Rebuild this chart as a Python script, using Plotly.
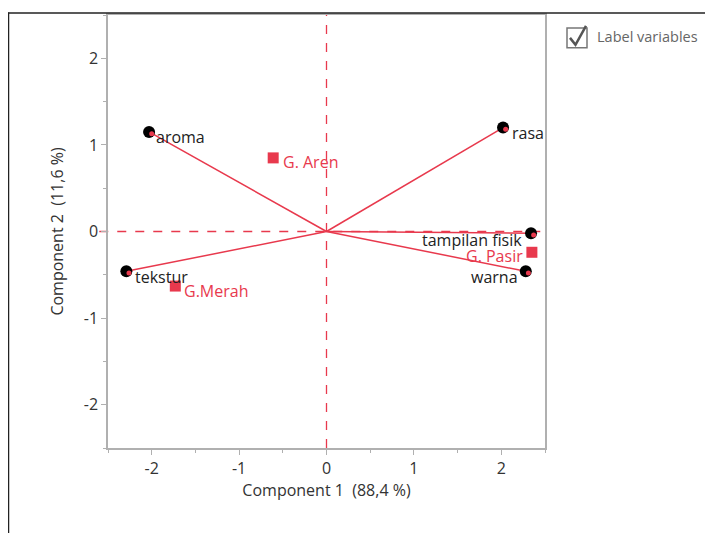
import plotly.graph_objects as go

var_names = ["aroma", "rasa", "tampilan fisik", "warna", "tekstur"]
var_x = [-2.03, 2.02, 2.34, 2.28, -2.29]
var_y = [1.15, 1.20, -0.02, -0.46, -0.46]

grp_names = ["G. Aren", "G.Merah", "G. Pasir"]
grp_x = [-0.61, -1.73, 2.35]
grp_y = [0.85, -0.63, -0.24]

xtick_vals = [-2, -1, 0, 1, 2]
xtick_text = ["-2", "-1", "0", "1", "2"]
ytick_vals = [-2, -1, 0, 1, 2]
ytick_text = ["-2", "-1", "0", "1", "2"]

RED = "#e8394d"
OX, OY = 8, 10  # page offset of the figure
W, H = 713 - OX, 535 - OY
L, R, T, B = 108 - OX, 545 - OX, 15 - OY, 450 - OY
FONT = "Open Sans"
FS = 16

fig = go.Figure()

for n, x, y in zip(var_names, var_x, var_y):
    fig.add_trace(go.Scatter(x=[0, x], y=[0, y], mode="lines",
                             line=dict(color=RED, width=1.5), showlegend=False, hoverinfo="skip"))

fig.add_trace(go.Scatter(x=var_x, y=var_y, mode="markers", showlegend=False,
                         marker=dict(color="black", size=12, line=dict(width=0))))
fig.add_trace(go.Scatter(x=[v + 0.03 for v in var_x], y=[v - 0.02 for v in var_y], mode="markers", showlegend=False,
                         marker=dict(color=RED, size=5, line=dict(width=0))))

fig.add_trace(go.Scatter(x=grp_x, y=grp_y, mode="markers",
                         marker=dict(symbol="square", color=RED, size=11, line=dict(width=0)),
                         showlegend=False))

# label placement: (xanchor, xshift, yshift)
var_lab = [("left", 5, -5), ("left", 7, -5), ("right", -7, -7), ("right", -6, -6), ("left", 7, -6)]
grp_lab = [("left", 8, -4), ("left", 7, -5), ("right", -7, -4)]

for n, x, y, (xa, xs, ys) in zip(var_names, var_x, var_y, var_lab):
    fig.add_annotation(x=x, y=y, text=n, showarrow=False, xanchor=xa, yanchor="middle",
                       xshift=xs, yshift=ys, font=dict(family=FONT, size=FS, color="#222222"))
for n, x, y, (xa, xs, ys) in zip(grp_names, grp_x, grp_y, grp_lab):
    fig.add_annotation(x=x, y=y, text=n, showarrow=False, xanchor=xa, yanchor="middle",
                       xshift=xs, yshift=ys, font=dict(family=FONT, size=FS, color=RED))

def px(p):
    return (p - OX - L) / (R - L)

def py(p):
    return (B - (p - OY)) / (B - T)

shapes = [
    dict(type="line", xref="x", yref="paper", x0=0, x1=0, y0=0, y1=1,
         line=dict(color=RED, width=1.3, dash="dash"), layer="below"),
    dict(type="line", xref="paper", yref="y", x0=-0.02, x1=1, y0=0, y1=0,
         line=dict(color=RED, width=1.3, dash="dash"), layer="below"),
    # outer frame
    dict(type="line", xref="paper", yref="paper", x0=px(8), x1=px(712), y0=py(13), y1=py(13),
         line=dict(color="#222222", width=1.5)),
    dict(type="line", xref="paper", yref="paper", x0=px(8.5), x1=px(8.5), y0=py(12.5), y1=py(600),
         line=dict(color="#222222", width=1.5)),
    # checkbox
    dict(type="rect", xref="paper", yref="paper", x0=px(567), x1=px(587), y0=py(28), y1=py(48),
         line=dict(color="#777777", width=1.5), fillcolor="white"),
    dict(type="path", xref="paper", yref="paper",
         path=f"M {px(570)},{py(38)} L {px(575.5)},{py(45)} L {px(586)},{py(26)}",
         line=dict(color="#555555", width=2.5)),
]

fig.add_annotation(x=px(595), y=py(37), xref="paper", yref="paper", text="Label variables",
                   showarrow=False, xanchor="left", yanchor="middle",
                   font=dict(family=FONT, size=14.5, color="#666666"))

axis_common = dict(range=[-2.5, 2.5], showgrid=False, zeroline=False,
                   showline=True, linecolor="#b0b0b0", linewidth=1.5, mirror=True,
                   ticks="outside", ticklen=5, tickcolor="#b0b0b0",
                   tickfont=dict(family=FONT, size=FS, color="#333333"),
                   minor=dict(ticks="outside", ticklen=3, tickcolor="#b0b0b0", dtick=0.5))

fig.update_layout(
    width=W, height=H,
    margin=dict(l=L, r=W - R, t=T, b=H - B),
    plot_bgcolor="white", paper_bgcolor="white",
    shapes=shapes,
    xaxis=dict(axis_common, tickvals=xtick_vals, ticktext=xtick_text,
               title=dict(text="Component 1  (88,4 %)", font=dict(family=FONT, size=FS, color="#333333"), standoff=5)),
    yaxis=dict(axis_common, tickvals=ytick_vals, ticktext=ytick_text,
               title=dict(text="Component 2  (11,6 %)", font=dict(family=FONT, size=FS, color="#333333"), standoff=16)),
)

fig.write_html("out.html")
